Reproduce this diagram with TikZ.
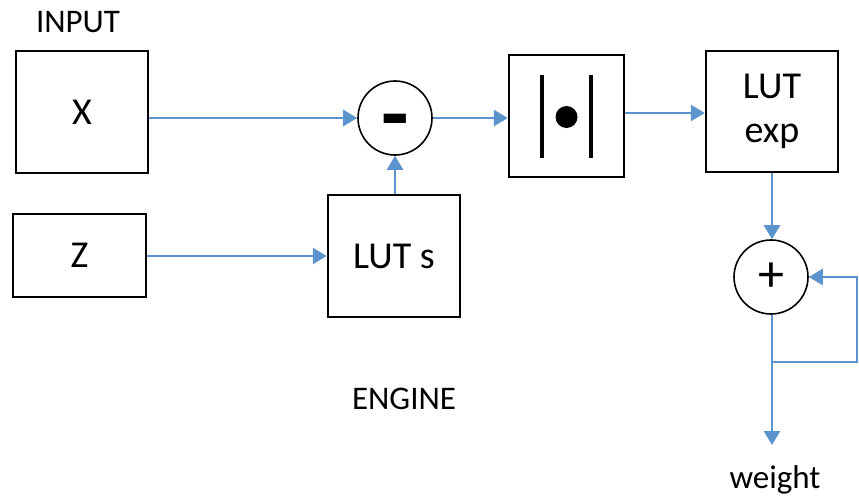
\documentclass[tikz,border=0pt]{standalone}
\usepackage{fontspec}
\setmainfont{Carlito}
\usetikzlibrary{arrows.meta}
\definecolor{flow}{RGB}{91,148,205}
\begin{document}
\begin{tikzpicture}[x=1pt,y=-1pt,
  block/.style={draw=black,line width=2.5pt,inner sep=0pt,align=center,
    font=\fontsize{38}{44}\selectfont},
  op/.style={draw=black,circle,line width=1.6pt,minimum size=74pt,inner sep=0pt,
    font=\fontsize{38}{44}\selectfont},
  wire/.style={draw=flow,line width=2.7pt},
  feed/.style={wire,-{Triangle[length=14pt,width=16pt]}},
  caption/.style={font=\fontsize{33}{38}\selectfont}]
\useasboundingbox (0,0) rectangle (859,498);

% blocks
\node[block,minimum width=132pt,minimum height=122pt] (X) at (82,112) {X};
\node[block,minimum width=133pt,minimum height=83pt] (Z) at (79.5,255.5) {Z};
\node[block,minimum width=132pt,minimum height=122pt] (luts) at (394,256) {LUT s};
\node[block,minimum width=115pt,minimum height=122pt] (abs) at (566.5,116) {};
\node[block,minimum width=132pt,minimum height=121pt] (lutexp) at (772,111.5) {LUT\\exp};

% operators (the minus sign is lowered onto the centre line of its circle)
\node[op] (minus) at (395,118) {\raisebox{-26pt}[0pt][0pt]{\fontsize{90}{90}\selectfont\bfseries -}};
\node[op] (plus) at (771,277) {\fontsize{52}{52}\selectfont +};

% absolute value symbol inside its block
\draw[line width=4pt] ([xshift=-24.5pt,yshift=41.5pt]abs.center) -- ++(0,83);
\draw[line width=4pt] ([xshift=24.5pt,yshift=41.5pt]abs.center) -- ++(0,83);
\fill ([yshift=-1pt]abs.center) circle (11pt);

% captions
\node[caption] (input) at (78,22) {INPUT};
\node[caption] (engine) at (404,399) {ENGINE};
\node[caption] (weight) at (775,480) {weight};

% connectors
\draw[feed] (X.east |- minus) -- (minus.west);
\draw[feed] (Z.east |- luts) -- (luts.west);
\draw[feed] (luts.north -| minus) -- (minus.south);
\draw[feed] (minus.east) -- (minus.east -| abs.west);
\draw[feed] ([yshift=3pt]abs.east) -- ([yshift=3pt]abs.east -| lutexp.west);
\draw[feed] (lutexp.south) -- (lutexp.south |- plus.north);

\coordinate (tap) at (772,362);
\coordinate (loop) at (857,362);
\coordinate (out) at (772,445);
\draw[feed] (plus.south -| tap) -- (out);
\draw[feed] (tap) -- (loop) |- (plus.east);
\end{tikzpicture}
\end{document}
